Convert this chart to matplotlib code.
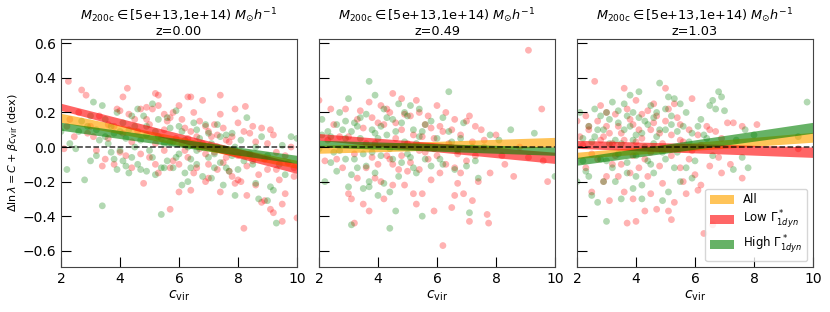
import numpy as np
import matplotlib
matplotlib.use("Agg")
import matplotlib.pyplot as plt

redshifts = ["0.00", "0.49", "1.03"]

# scatter points: (c_vir, delta ln lambda)
red_pts = [
    [(2.25,0.38),(2.7,0.33),(2.85,0.30),(4.25,0.34),(4.1,0.29),(3.9,0.22),(5.2,0.31),(5.3,0.30),(6.0,0.24),(6.3,0.29),
     (6.4,0.29),(6.8,0.27),(7.4,0.30),(7.9,0.22),(8.25,0.235),(9.1,0.10),(2.1,-0.01),(2.45,0.06),(2.6,0.2),(3.0,0.12),
     (3.3,0.18),(3.6,0.13),(3.8,0.12),(4.0,0.21),(4.3,0.19),(4.5,0.16),(4.7,0.22),(4.9,0.23),(5.1,0.22),(5.3,0.24),
     (5.5,0.19),(5.6,0.15),(5.7,0.17),(5.8,0.2),(6.1,0.16),(6.2,0.11),(6.3,0.05),(6.5,0.2),(6.7,0.15),(6.9,0.12),
     (7.0,0.09),(7.2,0.13),(7.3,0.07),(7.5,0.11),(7.6,0.04),(7.8,0.06),(8.0,0.14),(8.2,0.09),(8.4,0.08),(8.6,0.03),
     (8.8,0.11),(9.0,0.02),(9.3,-0.03),(9.6,-0.05),(9.9,-0.17),(10.0,-0.41),(3.5,-0.07),(3.8,-0.1),(4.2,-0.05),(4.4,-0.12),
     (4.8,-0.21),(5.0,-0.06),(5.2,-0.1),(5.5,-0.02),(5.7,-0.36),(5.8,-0.08),(6.0,-0.26),(6.3,-0.06),(6.4,-0.25),(6.6,-0.12),
     (6.9,-0.04),(7.0,-0.18),(7.2,-0.03),(7.4,-0.26),(7.5,-0.09),(7.7,-0.14),(7.9,-0.21),(8.0,-0.19),(8.1,-0.2),(8.2,-0.47),
     (8.3,-0.28),(8.5,-0.08),(8.6,-0.22),(8.8,-0.32),(8.9,-0.31),(9.0,-0.13),(9.1,-0.36),(9.2,-0.38),(9.4,-0.19),(9.5,-0.33),
     (9.5,-0.43),(9.7,-0.09),(9.9,-0.12),(6.1,0.02),(6.7,-0.01),(7.6,-0.06),(8.7,-0.16),(9.3,-0.13),(5.4,0.05),(4.6,0.09),
     (3.1,0.06),(2.3,0.16),(3.4,-0.11),(4.0,-0.03),
     (2.2,0.12),(2.9,0.08),(3.2,-0.02),(3.6,0.05),(4.1,0.08),(4.4,0.03),(4.7,-0.04),(5.0,0.13),(5.2,0.02),(5.5,0.1),
     (5.7,-0.12),(5.9,0.05),(6.0,-0.1),(6.2,-0.02),(6.4,0.09),(6.5,-0.15),(6.8,0.02),(7.0,-0.1),(7.1,0.06),(7.3,-0.13),
     (7.5,-0.01),(7.7,0.03),(7.8,-0.17),(8.0,-0.05),(8.3,-0.11),(8.5,0.12),(8.9,-0.07),(9.2,0.07),(9.6,-0.27),(9.8,0.0),
     (6.6,0.06),(5.3,-0.15),(4.9,0.16),(6.9,-0.2),(7.4,0.19)],
    [(2.0,0.27),(2.4,0.22),(2.7,0.06),(2.9,0.22),(3.0,-0.27),(3.1,-0.3),(3.2,-0.44),(3.3,0.16),(3.5,0.11),(3.5,-0.33),
     (3.7,0.26),(3.7,-0.37),(3.8,0.17),(3.9,0.02),(4.0,-0.1),(4.2,0.13),(4.3,-0.05),(4.4,0.2),(4.5,0.31),(4.6,0.05),
     (4.7,-0.13),(4.8,0.1),(4.9,-0.22),(5.0,0.02),(5.1,0.18),(5.2,-0.27),(5.3,0.27),(5.4,-0.02),(5.5,-0.27),(5.6,0.13),
     (5.7,-0.07),(5.8,0.11),(5.9,-0.37),(6.0,0.24),(6.1,-0.15),(6.2,-0.57),(6.3,0.2),(6.4,0.02),(6.5,-0.35),(6.6,0.16),
     (6.7,-0.21),(6.8,0.07),(6.9,-0.27),(7.0,0.15),(7.1,-0.43),(7.2,-0.31),(7.3,0.12),(7.4,-0.2),(7.5,0.1),(7.7,-0.39),
     (7.75,-0.44),(7.8,-0.15),(8.0,0.07),(8.3,-0.1),(8.6,-0.17),(9.1,0.56),(9.1,-0.06),(9.55,0.22),(9.75,-0.2),(3.2,-0.04),
     (3.9,-0.18),(4.4,-0.07),(5.0,-0.14),(5.5,0.06),(6.0,-0.05),(6.7,-0.04),(7.2,0.03),(2.3,0.04),(2.6,-0.07),(3.4,0.21),
     (4.1,0.24),(4.8,0.28),(5.4,0.2),(6.2,0.09),(6.6,-0.12),(7.0,-0.08),(5.8,-0.19),(4.5,-0.22),(3.6,-0.12),
     (2.2,-0.08),(2.5,0.13),(2.8,-0.12),(3.0,0.06),(3.3,-0.18),(3.6,0.02),(3.8,-0.06),(4.0,0.14),(4.1,-0.2),(4.3,0.22),
     (4.5,-0.1),(4.6,0.14),(4.8,-0.05),(4.9,0.19),(5.1,-0.09),(5.2,0.07),(5.4,-0.13),(5.6,-0.03),(5.7,0.18),(5.9,0.05),
     (6.1,0.12),(6.3,-0.1),(6.5,0.1),(6.8,-0.15),(7.1,0.18),(7.3,-0.05),(7.6,0.04),(8.2,-0.05),(8.8,0.0),(9.6,-0.08),
     (4.2,-0.3),(5.3,-0.33),(6.6,-0.28)],
    [(2.0,0.15),(2.2,0.01),(2.3,-0.12),(2.4,0.1),(2.5,-0.26),(2.6,0.38),(2.7,-0.07),(2.8,0.24),(2.9,-0.2),(3.0,0.12),
     (3.1,-0.31),(3.2,0.02),(3.3,0.19),(3.4,-0.17),(3.5,0.08),(3.6,0.34),(3.6,-0.26),(3.7,-0.44),(3.8,0.16),(3.9,-0.05),
     (4.0,0.27),(4.0,-0.43),(4.1,-0.12),(4.2,0.05),(4.3,-0.37),(4.4,0.21),(4.5,-0.03),(4.6,0.14),(4.7,-0.36),(4.8,0.08),
     (4.9,-0.21),(5.0,0.34),(5.1,-0.37),(5.2,0.07),(5.3,-0.32),(5.4,0.17),(5.5,-0.12),(5.6,0.03),(5.7,-0.27),(5.8,0.1),
     (5.9,0.28),(6.0,-0.16),(6.1,0.07),(6.2,-0.22),(6.3,-0.5),(6.4,0.12),(6.5,-0.11),(6.6,-0.45),(6.8,-0.06),(6.9,0.05),
     (7.1,0.14),(7.2,-0.1),(7.3,0.14),(7.6,-0.18),(9.5,-0.01),(2.4,0.12),(3.0,0.2),(3.5,-0.1),(4.1,0.1),(4.6,0.25),
     (5.1,0.22),(5.5,0.13),(6.2,0.01),(6.7,0.09),(3.3,-0.05),(4.4,-0.17),(2.8,0.04),(5.8,-0.07),(3.9,0.13),(4.9,0.02),
     (2.1,0.06),(2.3,0.18),(2.5,-0.04),(2.7,0.15),(2.9,0.06),(3.1,0.08),(3.2,-0.1),(3.4,0.12),(3.6,0.04),(3.7,0.22),
     (3.8,-0.15),(4.0,0.03),(4.2,0.19),(4.3,-0.07),(4.5,0.1),(4.7,0.18),(4.8,-0.11),(5.0,0.15),(5.2,-0.05),(5.3,0.25),
     (5.5,0.04),(5.6,-0.2),(5.9,-0.02),(6.1,-0.25),(6.5,0.1),(6.9,-0.15),(7.6,0.12),(8.1,0.13),(3.0,-0.17),(3.9,-0.3),
     (4.5,-0.27),(5.2,-0.42)],
]
green_pts = [
    [(2.0,0.09),(2.2,-0.13),(2.5,-0.01),(2.8,-0.19),(2.9,0.12),(3.1,0.26),(3.2,0.10),(3.4,0.24),(3.4,-0.34),(3.5,0.16),
     (3.6,0.02),(3.7,-0.03),(3.8,0.08),(3.9,-0.13),(4.0,-0.02),(4.1,-0.08),(4.2,0.05),(4.3,-0.15),(4.4,-0.06),(4.5,0.12),
     (4.6,-0.1),(4.7,0.04),(4.8,0.18),(4.9,-0.14),(5.0,-0.02),(5.1,0.25),(5.2,-0.16),(5.3,0.06),(5.4,-0.39),(5.5,0.02),
     (5.6,-0.08),(5.7,0.11),(5.8,-0.12),(5.9,0.21),(6.0,-0.04),(6.1,0.09),(6.2,-0.15),(6.3,0.0),(6.4,-0.07),(6.5,0.14),
     (6.6,-0.1),(6.7,0.05),(6.8,-0.17),(6.9,0.13),(7.0,-0.06),(7.1,0.02),(7.2,-0.12),(7.3,0.13),(7.4,-0.09),(7.5,-0.22),
     (7.6,0.07),(7.7,-0.14),(7.8,-0.05),(7.9,-0.28),(8.1,0.04),(8.3,0.17),(8.4,-0.04),(8.6,-0.21),(8.7,-0.3),(8.8,0.06),
     (9.0,-0.31),(9.1,-0.23),(9.2,-0.25),(9.3,-0.44),(9.5,0.01),(9.8,0.06),(10.0,0.05),(2.6,0.09),(3.0,-0.08),(3.3,0.04),
     (4.1,0.14),(4.4,0.18),(4.9,0.07),(5.3,0.16),(5.8,0.03),(6.3,-0.2),(7.3,0.0),(8.0,-0.13),(8.5,-0.1),(9.6,-0.16),
     (3.7,0.12),(4.6,0.22),(5.4,-0.12),(6.6,-0.02),(7.8,0.08),
     (2.3,0.02),(2.7,0.15),(3.0,0.18),(3.2,-0.05),(3.5,0.06),(3.8,-0.07),(4.0,0.09),(4.2,-0.11),(4.5,0.0),(4.7,-0.13),
     (4.9,0.12),(5.1,-0.06),(5.2,0.09),(5.5,-0.12),(5.7,0.03),(5.9,-0.06),(6.0,0.12),(6.2,0.04),(6.4,-0.12),(6.6,0.1),
     (6.8,0.0),(7.0,0.08),(7.2,-0.04),(7.4,0.06),(7.6,-0.12),(7.9,0.0),(8.2,-0.08),(8.6,0.0),(9.0,-0.05),(9.4,-0.1),
     (3.9,0.2),(4.3,0.1),(5.6,0.17),(6.1,-0.22),(7.1,-0.18)],
    [(2.0,-0.01),(2.1,0.16),(2.2,-0.2),(2.4,0.06),(2.5,-0.03),(2.6,-0.14),(2.7,0.2),(2.8,0.1),(2.9,-0.07),(3.0,0.28),
     (3.1,-0.45),(3.2,0.14),(3.3,-0.12),(3.4,0.05),(3.5,-0.24),(3.6,0.19),(3.7,0.38),(3.7,-0.2),(3.8,-0.03),(3.9,0.3),
     (4.0,-0.28),(4.1,0.12),(4.2,-0.21),(4.3,0.07),(4.4,-0.47),(4.5,0.16),(4.6,-0.37),(4.7,0.25),(4.8,-0.09),(4.9,0.03),
     (5.0,0.18),(5.1,-0.06),(5.2,0.1),(5.3,-0.15),(5.4,0.06),(5.5,-0.4),(5.6,0.13),(5.7,0.0),(5.8,-0.11),(6.0,0.05),
     (6.2,0.17),(6.4,0.32),(6.5,0.03),(6.6,-0.13),(6.8,0.05),(7.0,-0.11),(7.1,-0.38),(7.2,0.0),(7.4,-0.18),(7.8,0.07),
     (8.1,0.04),(9.3,0.08),(10.0,-0.17),(2.3,0.09),(2.9,0.05),(3.3,0.12),(3.5,-0.04),(3.9,0.08),(4.2,0.22),(4.4,-0.01),
     (4.8,0.14),(5.1,0.24),(5.5,0.09),(6.1,-0.07),(6.7,-0.02),(4.0,0.05),(3.1,-0.16),(2.6,0.13),
     (2.1,0.07),(2.4,-0.09),(2.7,-0.02),(2.9,0.15),(3.1,0.09),(3.2,-0.07),(3.4,0.17),(3.6,-0.11),(3.8,0.1),(3.9,-0.15),
     (4.1,-0.05),(4.3,0.17),(4.5,-0.07),(4.6,0.09),(4.7,-0.17),(4.9,0.2),(5.0,-0.04),(5.2,-0.12),(5.3,0.02),(5.4,0.22),
     (5.6,-0.07),(5.8,0.15),(5.9,-0.01),(6.2,-0.1),(6.4,0.09),(6.9,0.14),(7.3,-0.08),(7.6,0.0),(8.5,0.1),(3.0,-0.23),
     (3.7,-0.23),(4.4,-0.26)],
    [(2.0,-0.2),(2.1,0.2),(2.2,0.05),(2.3,-0.14),(2.4,0.12),(2.5,-0.28),(2.6,0.22),(2.7,-0.32),(2.8,-0.07),(2.9,0.1),
     (3.0,-0.43),(3.1,0.16),(3.2,-0.12),(3.3,0.04),(3.4,0.21),(3.5,-0.3),(3.6,0.1),(3.7,-0.09),(3.8,0.3),(3.9,0.04),
     (4.0,-0.17),(4.1,0.32),(4.2,-0.22),(4.3,0.15),(4.4,-0.08),(4.5,0.24),(4.6,-0.15),(4.7,0.06),(4.8,0.37),(4.9,-0.03),
     (5.0,0.22),(5.1,-0.26),(5.2,0.13),(5.3,0.28),(5.4,0.09),(5.5,-0.2),(5.6,0.12),(5.8,0.03),(5.9,-0.18),(6.1,0.12),
     (6.3,0.07),(6.5,0.24),(6.6,-0.05),(6.7,0.22),(6.8,0.32),(6.9,0.29),(7.0,0.21),(7.3,-0.13),(7.6,-0.06),(7.7,0.1),
     (7.8,-0.12),(8.0,0.07),(9.8,0.26),(9.5,0.06),(2.6,0.06),(3.0,0.2),(3.4,-0.04),(3.8,0.12),(4.3,0.0),(4.6,0.17),
     (5.0,0.1),(5.4,-0.03),(5.7,0.2),(6.0,-0.08),(6.4,0.05),(3.2,0.26),(4.0,0.07),(4.9,-0.31),(2.9,-0.2),(3.7,0.18),
     (2.2,-0.08),(2.4,-0.17),(2.5,0.03),(2.7,0.1),(2.8,0.18),(3.0,-0.08),(3.1,0.02),(3.3,-0.2),(3.4,0.14),(3.5,0.02),
     (3.6,0.25),(3.7,-0.15),(3.9,0.2),(4.0,-0.05),(4.1,0.17),(4.2,0.08),(4.4,0.13),(4.5,-0.1),(4.7,0.2),(4.8,0.1),
     (5.0,-0.07),(5.1,0.29),(5.2,0.18),(5.3,-0.12),(5.5,0.25),(5.7,-0.12),(5.9,0.08),(6.2,0.16),(6.6,0.27),(7.4,0.04),
     (3.9,-0.24),(4.2,-0.3),(4.6,0.02)],
]

# fit bands: (low, high) at c=2 and at c=10
band_x = [2, 10]
bands_all = [[(0.143, 0.195), (-0.123, -0.077)],
             [(-0.036, 0.01), (0.0, 0.056)],
             [(-0.066, -0.03), (0.028, 0.085)]]
bands_low = [[(0.212, 0.253), (-0.153, -0.095)],
             [(0.039, 0.078), (-0.095, -0.03)],
             [(-0.008, 0.039), (-0.06, 0.0)]]
bands_high = [[(0.097, 0.143), (-0.095, -0.048)],
              [(0.0, 0.039), (-0.048, 0.0)],
              [(-0.105, -0.06), (0.08, 0.143)]]

fig = plt.figure(figsize=(8.3, 3.12), dpi=100)
lefts = [61/830, 319/830, 577/830]
axes = []
for i in range(3):
    ax = fig.add_axes([lefts[i], 45/312, 236/830, 228/312])
    axes.append(ax)
    r = np.array(red_pts[i]); g = np.array(green_pts[i])
    ax.scatter(r[:, 0], r[:, 1], s=24, color='red', alpha=0.3, edgecolors='none')
    ax.scatter(g[:, 0], g[:, 1], s=24, color='green', alpha=0.3, edgecolors='none')
    for b, col, a, lab in [(bands_all[i], 'orange', 0.65, 'All'),
                           (bands_low[i], 'red', 0.6, r'Low $\Gamma^*_{1dyn}$'),
                           (bands_high[i], 'green', 0.6, r'High $\Gamma^*_{1dyn}$')]:
        ax.fill_between(band_x, [b[0][0], b[1][0]], [b[0][1], b[1][1]],
                        color=col, alpha=a, lw=0, label=lab)
    ax.axhline(0, color='black', ls='--', lw=1.1, alpha=0.8)
    ax.set_xlim(2, 10)
    ax.set_ylim(-0.694, 0.625)
    ax.set_xticks([2, 4, 6, 8, 10])
    ax.set_yticks([-0.6, -0.4, -0.2, 0.0, 0.2, 0.4, 0.6])
    ax.tick_params(direction='in', length=7, labelsize=10)
    ax.set_xlabel(r'$c_{\rm vir}$', fontsize=10, labelpad=2)
    ax.set_title(r'$M_{\rm 200c}\in$[5e+13,1e+14) $M_{\odot}h^{-1}$' + '\nz=' + redshifts[i],
                 fontsize=9.3, linespacing=1.0, pad=3)
    for sp in ax.spines.values():
        sp.set_color('#444444')
    if i > 0:
        ax.set_yticklabels([])

axes[0].set_ylabel(r'$\Delta \ln\lambda = C + \beta c_{\rm vir}$ (dex)', fontsize=8, labelpad=2)
axes[2].legend(loc='lower right', fontsize=8.5, handlelength=2.0, handleheight=0.8,
               borderpad=0.4, labelspacing=0.25, handletextpad=0.8)

fig.savefig('out.png', dpi=100)
